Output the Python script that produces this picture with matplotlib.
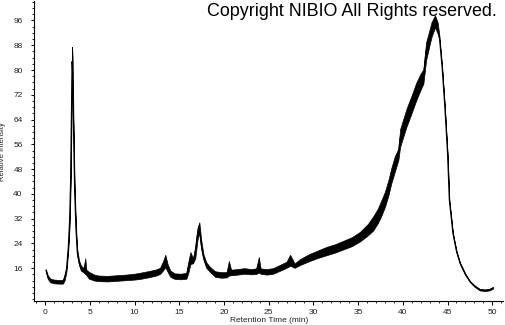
import numpy as np
import matplotlib
matplotlib.use('Agg')
import matplotlib.pyplot as plt
from matplotlib.ticker import MultipleLocator

plt.rcParams['font.family'] = ['Liberation Sans', 'DejaVu Sans']

# retention time (min) and the lower / upper edge of the noisy trace (relative intensity)
t_min = [0.1, 0.3, 0.6, 1.0, 1.5, 2.0, 2.2, 2.4, 2.6, 2.75, 2.85, 2.95, 3.02, 3.08,
         3.17, 3.3, 3.45, 3.6, 3.8, 4.0, 4.3, 4.5, 4.6, 4.9, 5.5, 6.0, 7.0, 8.0,
         9.0, 10.0, 10.6, 11.5, 12.3, 12.85, 13.2, 13.45, 13.7, 14.0, 14.5, 15.2,
         15.8, 16.0, 16.25, 16.55, 16.8, 17.05, 17.25, 17.45, 17.7, 18.0, 18.4,
         19.0, 19.7, 20.3, 20.55, 20.8, 21.5, 22.3, 23.0, 23.6, 23.9, 24.1, 24.8,
         25.5, 26.3, 27.0, 27.4, 27.9, 28.5, 29.5, 30.5, 31.5, 32.4, 33.4, 34.3,
         35.2, 36.1, 36.7, 37.2, 37.6, 38.0, 38.4, 38.7, 39.1, 39.5, 39.7, 40.4,
         41.0, 41.5, 42.0, 42.3, 42.6, 43.0, 43.2, 43.6, 43.9, 44.1, 44.4, 44.7,
         45.0, 45.2, 45.6, 46.0, 46.4, 47.0, 47.5, 48.0, 48.6, 49.2, 49.7, 50.1]
lo = [15.0, 12.5, 11.4, 11.1, 11.0, 11.0, 12.2, 15.0, 22.0, 30.0, 42.0, 62.0, 78.0, 74.0,
      60.0, 40.0, 27.5, 20.0, 17.0, 15.2, 14.6, 14.1, 13.8, 12.6, 12.0, 11.8, 11.7, 11.9,
      12.1, 12.3, 12.5, 13.0, 13.5, 14.1, 15.3, 16.3, 14.8, 13.2, 12.5, 12.4,
      12.6, 14.3, 17.3, 17.6, 19.3, 25.3, 27.4, 22.3, 18.8, 16.2, 14.9,
      13.2, 12.9, 13.0, 13.6, 13.7, 13.9, 14.2, 14.0, 14.1, 14.6, 14.2, 13.9,
      14.2, 15.2, 16.1, 16.8, 16.1, 17.0, 18.2, 19.3, 20.2, 21.0, 22.1, 23.1,
      24.6, 26.6, 28.2, 30.5, 32.9, 35.8, 39.6, 43.3, 47.1, 50.9, 55.2, 61.6,
      66.2, 70.2, 73.7, 75.6, 83.1, 88.2, 90.6, 93.8, 91.7, 89.6, 80.3, 67.6,
      52.7, 37.7, 27.0, 21.1, 17.3, 13.7, 11.5, 10.0, 8.8, 8.6, 8.8, 9.4]
hi = [15.6, 13.7, 12.6, 12.3, 12.2, 12.2, 14.0, 16.5, 24.0, 34.0, 46.0, 72.0, 87.5, 84.0,
      65.0, 43.0, 30.0, 22.0, 18.5, 16.9, 16.0, 19.2, 15.6, 14.8, 13.9, 13.6, 13.5, 13.7,
      13.9, 14.2, 14.5, 15.0, 15.5, 16.1, 18.3, 20.3, 17.3, 15.2, 14.3, 14.2,
      14.5, 17.8, 21.2, 19.1, 23.3, 29.2, 30.8, 25.3, 20.6, 18.0, 16.5,
      15.0, 14.7, 14.7, 18.3, 15.5, 15.7, 16.0, 15.7, 15.9, 19.6, 15.9, 15.7,
      16.0, 17.1, 18.1, 20.3, 17.5, 18.9, 20.5, 21.7, 22.9, 23.7, 24.9, 26.0,
      27.7, 30.3, 32.8, 35.2, 37.9, 40.7, 44.6, 48.2, 52.1, 54.6, 60.9, 67.4,
      71.9, 75.9, 78.9, 80.2, 88.9, 93.1, 95.4, 97.7, 95.3, 90.9, 80.9, 68.2,
      53.2, 38.2, 27.5, 21.7, 17.8, 14.2, 11.9, 10.5, 9.3, 9.1, 9.3, 9.9]

x_ticks = list(range(0, 51, 5))
y_ticks = list(range(16, 97, 8))

fig = plt.figure(figsize=(5.05, 3.25), dpi=100)
ax = fig.add_axes([0.068, 0.074, 0.928, 0.922])

t = np.array(t_min)
mid = (np.array(lo) + np.array(hi)) / 2
ax.fill_between(t, lo, hi, color='black', lw=0.5)
ax.plot(t, mid, color='black', lw=0.8)

ax.set_xlim(-1.2, 51.2)
ax.set_ylim(5.4, 102.2)
ax.set_xticks(x_ticks)
ax.set_yticks(y_ticks)
ax.xaxis.set_minor_locator(MultipleLocator(1))
ax.yaxis.set_minor_locator(MultipleLocator(2))

for s in ['top', 'right']:
    ax.spines[s].set_visible(False)
for s in ['left', 'bottom']:
    ax.spines[s].set_linewidth(0.8)

ax.tick_params(axis='x', which='major', length=3, width=0.7, pad=2.5, labelsize=6, labelcolor='#222')
ax.tick_params(axis='x', which='minor', length=1.6, width=0.6)
ax.tick_params(axis='y', which='major', length=2.4, width=0.7, pad=6, labelsize=6, labelcolor='#222')
ax.tick_params(axis='y', which='minor', length=1.4, width=0.6)

ax.set_xlabel('Retention Time (min)', fontsize=6, labelpad=1, color='#222')
ax.set_ylabel('Relative Intensity', fontsize=5.5, labelpad=5, color='#222')

fig.text(207 / 505, 1 - 16 / 325, 'Copyright NIBIO All Rights reserved.',
         fontsize=12.9, va='baseline', ha='left')

fig.savefig('out.png', dpi=100)
